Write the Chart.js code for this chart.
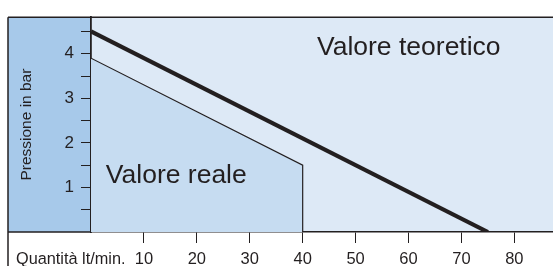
<!DOCTYPE html>
<html>
<head>
<meta charset="utf-8">
<script src="https://cdn.jsdelivr.net/npm/chart.js@4/dist/chart.umd.min.js"></script>
<style>
  html, body { margin: 0; padding: 0; background: #ffffff; }
  #wrap { width: 553px; height: 266px; position: relative; }
</style>
</head>
<body>
<div id="wrap"><canvas id="c" width="553" height="266"></canvas></div>
<script>
// ---- data ----
const theoreticalX = [0, 75];
const theoreticalY = [4.5, 0];
const realX = [0, 40, 40];
const realY = [3.9, 1.5, 0];
const xTicks = [10, 20, 30, 40, 50, 60, 70, 80];
const yTicks = [0.5, 1, 1.5, 2, 2.5, 3, 3.5, 4, 4.5];
const yTickLabels = ['', '1', '', '2', '', '3', '', '4', ''];
const xAxisLabel = 'Quantità lt/min.';
const yAxisLabel = 'Pressione in bar';
const seriesNames = ['Valore teoretico', 'Valore reale'];

const INK = '#231f20';
const FONT = "'Liberation Sans', Arial, Helvetica, sans-serif";

const toPoints = (xs, ys) => xs.map((x, i) => ({ x: x, y: ys[i] }));

// text labels inside the plot, anchored in data units
const plotLabels = [
  { text: seriesNames[0], x: 42.7, y: 3.98 },
  { text: seriesNames[1], x: 2.8, y: 1.1 }
];

const backgroundPlugin = {
  id: 'bg',
  beforeDraw(chart) {
    const { ctx, chartArea: a, scales } = chart;
    ctx.save();
    ctx.fillStyle = '#ffffff';
    ctx.fillRect(0, 0, chart.width, chart.height);
    ctx.fillStyle = '#dde9f6';
    ctx.fillRect(a.left, a.top, a.right - a.left, a.bottom - a.top);
    ctx.fillStyle = '#a7c9ea';
    ctx.fillRect(scales.y.left, a.top, a.left - scales.y.left, a.bottom - a.top);
    ctx.restore();
  },
  afterDatasetsDraw(chart) {
    const { ctx, scales } = chart;
    ctx.save();
    ctx.fillStyle = INK;
    ctx.font = '26.5px ' + FONT;
    ctx.textBaseline = 'alphabetic';
    ctx.textAlign = 'left';
    plotLabels.forEach(l => {
      ctx.fillText(l.text, scales.x.getPixelForValue(l.x), scales.y.getPixelForValue(l.y));
    });
    ctx.restore();
  },
  afterDraw(chart) {
    const { ctx, chartArea: a, scales } = chart;
    ctx.save();
    ctx.strokeStyle = INK;
    // outer frame: top and left
    ctx.lineWidth = 1.5;
    ctx.beginPath();
    ctx.moveTo(scales.y.left, a.top);
    ctx.lineTo(a.right, a.top);
    ctx.stroke();
    ctx.beginPath();
    ctx.moveTo(scales.y.left, a.top);
    ctx.lineTo(scales.y.left, chart.height);
    ctx.stroke();
    // bottom baseline under the y-axis panel
    ctx.beginPath();
    ctx.moveTo(scales.y.left, a.bottom);
    ctx.lineTo(a.left, a.bottom);
    ctx.stroke();
    // x axis caption at the position of the first tick row
    ctx.fillStyle = INK;
    ctx.font = '16.3px ' + FONT;
    ctx.textAlign = 'left';
    ctx.textBaseline = 'middle';
    ctx.fillText(xAxisLabel, scales.y.left + 8, scales.x.top + 11 + 7 + 9.6);
    ctx.restore();
  }
};

new Chart(document.getElementById('c'), {
  type: 'line',
  data: {
    datasets: [
      {
        label: seriesNames[0],
        data: toPoints(theoreticalX, theoreticalY),
        borderColor: INK,
        borderWidth: 4.2,
        pointRadius: 0,
        fill: false,
        tension: 0
      },
      {
        label: seriesNames[1],
        data: toPoints(realX, realY),
        borderColor: INK,
        borderWidth: 1.2,
        backgroundColor: '#c6dcf1',
        pointRadius: 0,
        fill: 'origin',
        tension: 0
      }
    ]
  },
  options: {
    responsive: false,
    animation: false,
    devicePixelRatio: 1,
    layout: { padding: { left: 8, top: 14, right: 0, bottom: 0 } },
    plugins: {
      legend: { display: false },
      tooltip: { enabled: false },
      title: { display: false }
    },
    scales: {
      x: {
        type: 'linear',
        min: 0,
        max: 87.3,
        afterBuildTicks: s => { s.ticks = xTicks.map(v => ({ value: v })); },
        afterFit: s => { s.height = 34; },
        grid: { drawOnChartArea: false, drawTicks: true, tickLength: 11, color: INK, lineWidth: 1 },
        border: { display: true, color: INK, width: 1.5 },
        ticks: {
          color: INK,
          font: { family: FONT, size: 16.5 },
          padding: 7,
          maxRotation: 0,
          autoSkip: false
        }
      },
      y: {
        type: 'linear',
        min: 0,
        max: 4.82,
        afterBuildTicks: s => { s.ticks = yTicks.map(v => ({ value: v })); },
        afterFit: s => { s.width = 83; },
        grid: { drawOnChartArea: false, drawTicks: true, tickLength: 10, color: INK, lineWidth: 1 },
        border: { display: true, color: INK, width: 1.8 },
        ticks: {
          color: INK,
          font: { family: FONT, size: 17 },
          padding: 7,
          autoSkip: false,
          callback: (v, i) => yTickLabels[i]
        },
        title: {
          display: true,
          text: yAxisLabel,
          color: INK,
          font: { family: FONT, size: 15.5 },
          padding: { top: 9, bottom: 0 }
        }
      }
    }
  },
  plugins: [backgroundPlugin]
});
</script>
</body>
</html>
